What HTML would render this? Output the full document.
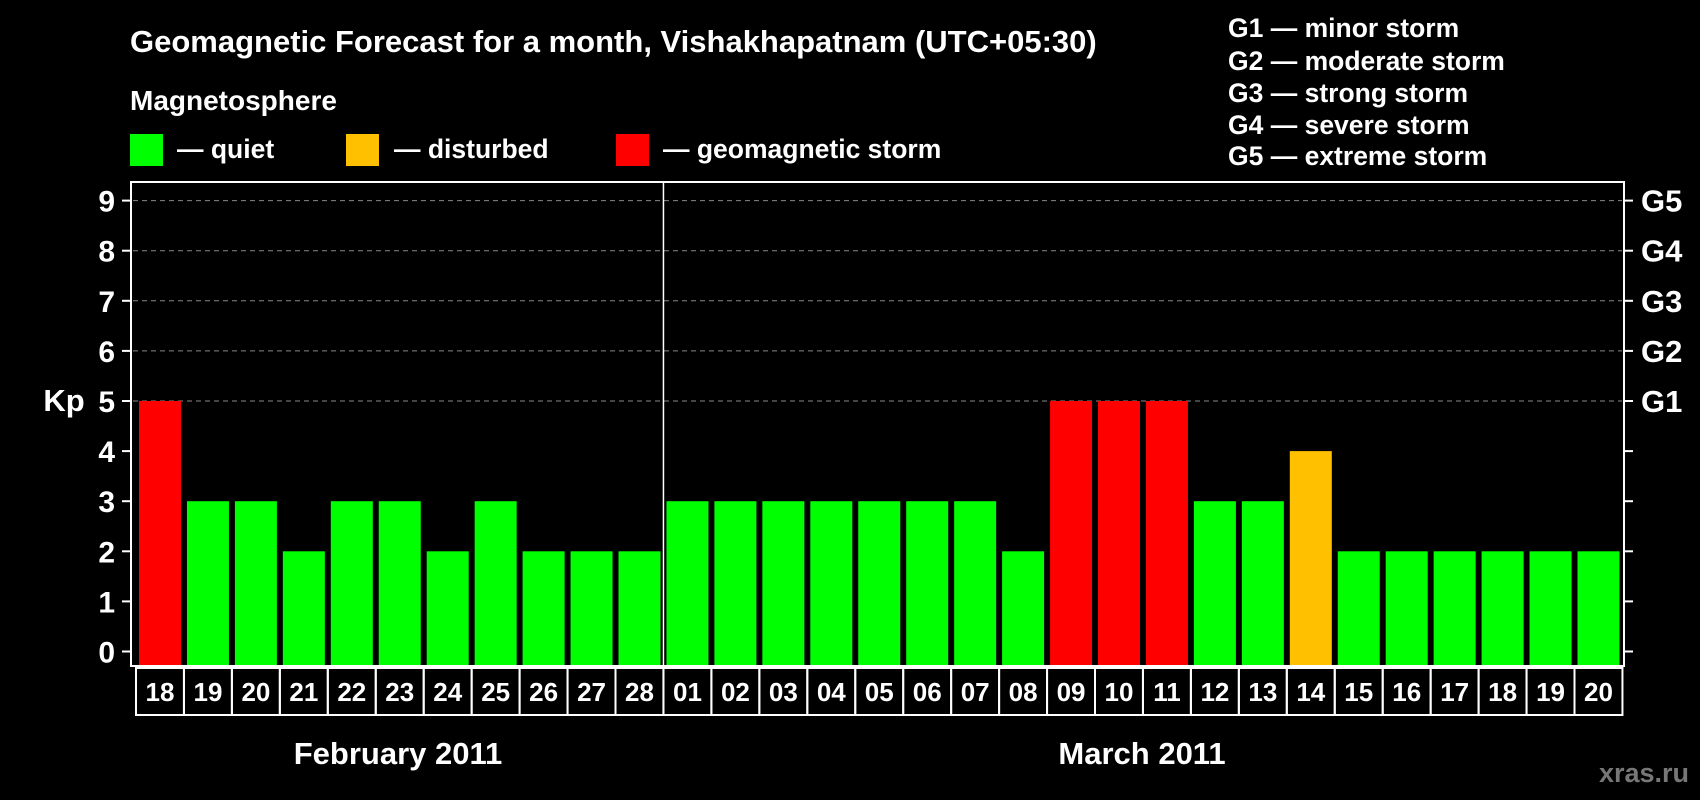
<!DOCTYPE html>
<html><head><meta charset="utf-8"><style>
body{margin:0;background:#000;}
svg{display:block;font-family:"Liberation Sans",sans-serif;font-weight:bold;}
</style></head><body>
<svg id="chart" width="1700" height="800" viewBox="0 0 1700 800">
<rect width="1700" height="800" fill="#000"/>
<text x="130" y="52" fill="#fff" font-size="31">Geomagnetic Forecast for a month, Vishakhapatnam (UTC+05:30)</text>
<text x="130" y="110" fill="#fff" font-size="28">Magnetosphere</text>
<g><rect x="130" y="134" width="33" height="32" fill="#00ff00"/><text x="177" y="158" fill="#fff" font-size="26.5">— quiet</text></g>
<g><rect x="346" y="134" width="33" height="32" fill="#ffc000"/><text x="394" y="158" fill="#fff" font-size="26.5">— disturbed</text></g>
<g><rect x="616" y="134" width="33" height="32" fill="#ff0000"/><text x="663" y="158" fill="#fff" font-size="26.5">— geomagnetic storm</text></g>
<g fill="#fff" font-size="26.5">
<text x="1228" y="37">G1 — minor storm</text>
<text x="1228" y="70">G2 — moderate storm</text>
<text x="1228" y="102">G3 — strong storm</text>
<text x="1228" y="134">G4 — severe storm</text>
<text x="1228" y="165">G5 — extreme storm</text>
</g>
<text x="64" y="411" fill="#fff" font-size="31" text-anchor="middle">Kp</text>
<text x="398" y="764" fill="#fff" font-size="31" text-anchor="middle">February 2011</text>
<text x="1142" y="764" fill="#fff" font-size="31" text-anchor="middle">March 2011</text>
<text x="1689" y="782" fill="#777" font-size="27" text-anchor="end">xras.ru</text>
<g id="plot"></g>
</svg>
<script>
const days=["18","19","20","21","22","23","24","25","26","27","28","01","02","03","04","05","06","07","08","09","10","11","12","13","14","15","16","17","18","19","20"];
const kpValues=[5,3,3,2,3,3,2,3,2,2,2,3,3,3,3,3,3,3,2,5,5,5,3,3,4,2,2,2,2,2,2];
const yTicks=[0,1,2,3,4,5,6,7,8,9];
const gLabels=["G1","G2","G3","G4","G5"];
const gLevels=[5,6,7,8,9];
const monthBreak=11;
const NS="http://www.w3.org/2000/svg";
const plot=document.getElementById('plot');
const L=131,R=1624,T=182,B=666,x0=139,pitch=47.95,bw=42;
const y=v=>651.5-v*50.1;
const xb=i=>x0+i*pitch;
function mk(tag,attrs,parent){const e=document.createElementNS(NS,tag);for(const k in attrs)e.setAttribute(k,attrs[k]);(parent||plot).appendChild(e);return e;}
gLevels.forEach(v=>{
 const g=mk('line',{x1:L+2,x2:R-2,y1:y(v),y2:y(v),stroke:'#888','stroke-width':1,'stroke-dasharray':'5,4'});
 
 
});
kpValues.forEach((v,i)=>{
 const c=v>=5?'#ff0000':(v>=4?'#ffc000':'#00ff00');
 const r=mk('rect',{x:xb(i),y:y(v),width:bw,height:B-1-y(v),fill:c});
 
 
});
const fr=mk('rect',{x:L,y:T,width:R-L,height:B-T,fill:'none',stroke:'#fff','stroke-width':2});


const sep=mk('line',{x1:xb(monthBreak)-3,x2:xb(monthBreak)-3,y1:T,y2:B,stroke:'#fff','stroke-width':1.5});


yTicks.forEach(v=>{
 mk('line',{x1:122,x2:L,y1:y(v),y2:y(v),stroke:'#fff','stroke-width':2});
 mk('line',{x1:R,x2:1633,y1:y(v),y2:y(v),stroke:'#fff','stroke-width':2});
 const t=mk('text',{x:115,y:y(v)+11,fill:'#fff','font-size':30,'text-anchor':'end'});
 t.textContent=v;
 
 
});
gLevels.forEach((v,i)=>{
 const t=mk('text',{x:1641,y:y(v)+11,fill:'#fff','font-size':31});
 t.textContent=gLabels[i];
 
 
});
days.forEach((d,i)=>{
 const bx=mk('rect',{x:xb(i)-3,y:668,width:pitch,height:47,fill:'none',stroke:'#fff','stroke-width':2});
 
 
 const t=mk('text',{x:xb(i)+bw/2,y:701,fill:'#fff','font-size':26,'text-anchor':'middle'});
 t.textContent=d;
 
 
});
</script>
</body></html>
